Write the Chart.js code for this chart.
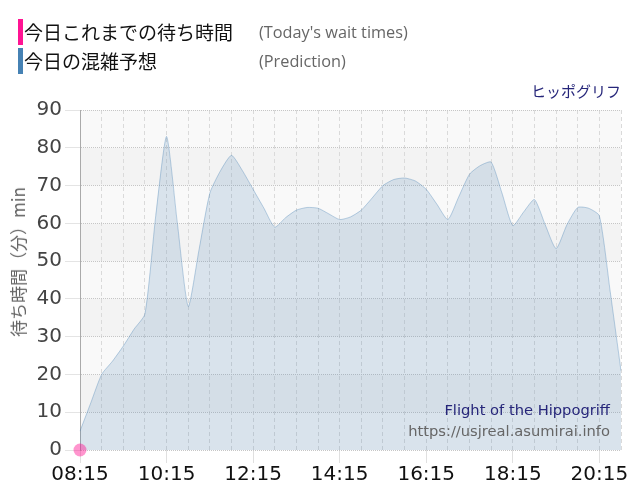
<!DOCTYPE html>
<html><head><meta charset="utf-8">
<script src="https://cdn.jsdelivr.net/npm/chart.js@4.4.1/dist/chart.umd.min.js"></script>
<style>
html,body{margin:0;padding:0;background:#fff;}
#wrap{position:relative;width:640px;height:500px;overflow:hidden;background:#fff;}
canvas{position:absolute;left:0;top:0;}
.t{position:absolute;white-space:nowrap;}
.jp{font-family:"Noto Sans CJK JP","Noto Sans",sans-serif;}
.en{font-family:"Open Sans","Noto Sans",sans-serif;color:#666;}
.dv{font-family:"DejaVu Sans",sans-serif;}
</style></head><body>
<div id="wrap">
<canvas id="c" width="640" height="500"></canvas>
<div class="t" style="left:18px;top:19px;width:5px;height:26px;background:#ff1493"></div>
<div class="t jp" style="left:24px;top:18px;line-height:28px;font-size:19px;color:#111">今日これまでの待ち時間</div>
<div class="t en" style="left:259px;top:19px;line-height:26px;font-size:16.3px">(Today's wait times)</div>
<div class="t" style="left:18px;top:48px;width:5px;height:26px;background:#4682b4"></div>
<div class="t jp" style="left:24px;top:47px;line-height:28px;font-size:19px;color:#111">今日の混雑予想</div>
<div class="t en" style="left:259px;top:48px;line-height:26px;font-size:16.3px">(Prediction)</div>
<div class="t jp" style="right:19px;top:80px;line-height:22px;font-size:15px;color:#26267a">ヒッポグリフ</div>
<div class="t dv" style="right:30px;top:400px;line-height:20px;font-size:14.7px;color:#26267a">Flight of the Hippogriff</div>
<div class="t dv" style="right:30px;top:421px;line-height:20px;font-size:14.7px;color:#666">https://usjreal.asumirai.info</div>
<div class="t jp" style="left:18px;top:262px;width:0;height:0;">
  <div style="position:absolute;left:0;top:0;transform:translate(-50%,-50%) rotate(-90deg);font-size:17px;line-height:20px;color:#666;white-space:nowrap">待ち時間（分）min</div>
</div>
</div>
<script>
const timeLabels = [
  '08:15','08:30','08:45','09:00','09:15','09:30','09:45','10:00','10:15','10:30','10:45',
  '11:00','11:15','11:30','11:45','12:00','12:15','12:30','12:45','13:00','13:15','13:30','13:45',
  '14:00','14:15','14:30','14:45','15:00','15:15','15:30','15:45','16:00','16:15','16:30','16:45',
  '17:00','17:15','17:30','17:45','18:00','18:15','18:30','18:45','19:00','19:15','19:30','19:45',
  '20:00','20:15','20:30','20:45'
];
const predictionValues = [
  5,12.5,20,23.5,27.5,32,36,62,83,60,38,
  53,68,74,78,74,69,64,59,61.5,63.5,64.2,64,
  62.5,61,61.7,63.5,66.7,70,71.6,72,71.2,69,65,61,
  67,73,75.3,76.2,68,59.4,63,66.3,59.6,53.3,59.6,64.2,
  64,62,42,21
];
const todayValues = [
  0,null,null,null,null,null,null,null,null,null,null,
  null,null,null,null,null,null,null,null,null,null,null,null,
  null,null,null,null,null,null,null,null,null,null,null,null,
  null,null,null,null,null,null,null,null,null,null,null,null,
  null,null,null,null
];
const yMin = 0, yMax = 90, yStep = 10;

const bandPlugin = {
  id: 'bands',
  beforeDraw(chart) {
    const {ctx, chartArea, scales} = chart;
    const y = scales.y;
    ctx.save();
    for (let v = yMin; v < yMax; v += yStep) {
      const idx = (v - yMin) / yStep;
      ctx.fillStyle = (idx % 2 === 0) ? '#f9f9f9' : '#f3f3f3';
      const top = y.getPixelForValue(v + yStep);
      const bot = y.getPixelForValue(v);
      ctx.fillRect(chartArea.left, top, chartArea.right - chartArea.left, bot - top);
    }
    ctx.restore();
  }
};

new Chart(document.getElementById('c'), {
  type: 'line',
  data: {
    labels: timeLabels,
    datasets: [
      {
        label: '今日これまでの待ち時間',
        data: todayValues,
        showLine: false,
        pointRadius: 6.5,
        pointBackgroundColor: 'rgba(255,20,147,0.45)',
        pointBorderWidth: 0,
        clip: false,
        order: 0
      },
      {
        label: '今日の混雑予想',
        data: predictionValues,
        fill: 'origin',
        backgroundColor: 'rgba(70,130,180,0.18)',
        borderColor: 'rgba(70,130,180,0.35)',
        borderWidth: 1,
        pointRadius: 0,
        tension: 0.2,
        order: 1
      }
    ]
  },
  options: {
    responsive: false,
    animation: false,
    devicePixelRatio: 1,
    layout: { padding: { top: 110, right: 19, left: 0, bottom: 0 } },
    plugins: { legend: { display: false }, tooltip: { enabled: false } },
    scales: {
      x: {
        afterFit(s) { s.height = 50; },
        grid: {
          color: (c) => (c.index % 2 === 0 ? '#dadada' : 'rgba(0,0,0,0)'),
          lineWidth: 1,
          tickLength: 13,
          tickColor: (c) => (c.index % 8 === 0 ? '#e0e0e0' : 'rgba(0,0,0,0)')
        },
        border: { display: false, dash: [4, 3] },
        ticks: {
          autoSkip: false,
          maxRotation: 0,
          padding: 0,
          color: '#111',
          font: { family: 'DejaVu Sans', size: 20 },
          callback: function (v, i) { return i % 8 === 0 ? this.getLabelForValue(v) : ''; }
        }
      },
      y: {
        min: yMin,
        max: yMax,
        afterFit(s) { s.width = 80; },
        grid: { color: '#c6c6c6', lineWidth: 1, tickLength: 15, tickColor: '#e4e4e4' },
        border: { display: true, color: '#aaaaaa', width: 1, dash: [1, 1] },
        ticks: {
          stepSize: yStep,
          padding: 3,
          color: '#444',
          font: { family: 'DejaVu Sans', size: 20 }
        }
      }
    }
  },
  plugins: [bandPlugin]
});
</script>
</body></html>
